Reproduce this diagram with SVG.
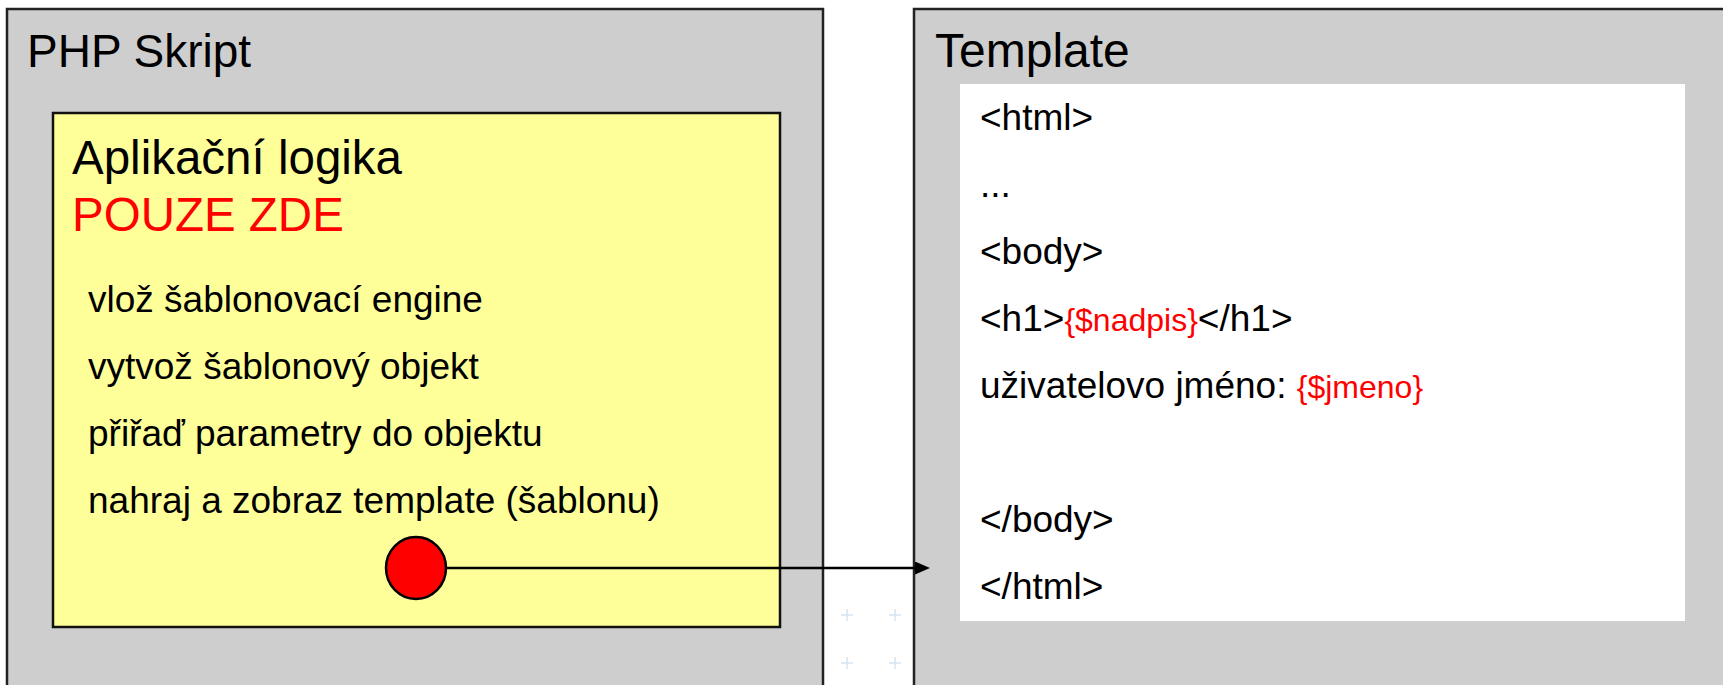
<svg xmlns="http://www.w3.org/2000/svg" width="1723" height="685" viewBox="0 0 1723 685">
  <style>
    text { font-family: "Liberation Sans", Arial, sans-serif; fill: #000; }
    .panel { fill: #cecece; stroke: #222; stroke-width: 2.5; }
    .logic { fill: #ffff99; stroke: #111; stroke-width: 2.5; }
    .sheet { fill: #fff; }
    .title { font-size: 46px; }
    .title-wide { font-size: 48px; }
    .head { font-size: 47.5px; }
    .item { font-size: 37px; }
    .code { font-size: 37px; }
    .var { font-size: 32px; fill: #ff0000; }
    .red { fill: #ff0000; }
    .cross { stroke: #d8e5ef; stroke-width: 1.5; }
    .wire { stroke: #000; stroke-width: 2.5; fill: none; }
  </style>
  <defs>
    <marker id="arrow" viewBox="0 0 15 13" refX="0" refY="6.5" markerWidth="15" markerHeight="13" markerUnits="userSpaceOnUse" orient="auto">
      <path d="M0,0 L15,6.5 L0,13 Z" fill="#000"/>
    </marker>
  </defs>

  <rect width="1723" height="685" fill="#fff"/>

  <!-- faint grid marks between the panels -->
  <g id="grid-marks">
    <path class="cross" d="M841,615 h12 M847,609 v12 M889,615 h12 M895,609 v12 M841,663 h12 M847,657 v12 M889,663 h12 M895,657 v12"/>
  </g>

  <!-- PHP script panel -->
  <g id="php-script">
    <rect class="panel" x="7" y="9" width="816" height="700"/>
    <text class="title" x="27" y="67">PHP Skript</text>
  </g>

  <!-- application logic block -->
  <g id="app-logic">
    <rect class="logic" x="53" y="113" width="727" height="514"/>
    <text class="head" x="72" y="174">Aplikační logika</text>
    <text class="head red" x="72" y="231">POUZE ZDE</text>
    <text class="item" x="88" y="312">vlož šablonovací engine</text>
    <text class="item" x="88" y="379">vytvož šablonový objekt</text>
    <text class="item" x="88" y="446">přiřaď parametry do objektu</text>
    <text class="item" x="88" y="513">nahraj a zobraz template (šablonu)</text>
  </g>

  <!-- template panel -->
  <g id="template">
    <rect class="panel" x="914" y="9" width="830" height="700"/>
    <text class="title-wide" x="935" y="67">Template</text>
    <rect class="sheet" x="960" y="84" width="725" height="537"/>
    <text class="code" x="980" y="130">&lt;html&gt;</text>
    <text class="code" x="980" y="197">...</text>
    <text class="code" x="980" y="264">&lt;body&gt;</text>
    <text class="code" x="980" y="331">&lt;h1&gt;<tspan class="var">{$nadpis}</tspan>&lt;/h1&gt;</text>
    <text class="code" x="980" y="398">uživatelovo jméno: <tspan class="var">{$jmeno}</tspan></text>
    <text class="code" x="980" y="532">&lt;/body&gt;</text>
    <text class="code" x="980" y="599">&lt;/html&gt;</text>
  </g>

  <!-- render call: logic block to template -->
  <g id="connectors">
    <line class="wire" x1="446" y1="568" x2="915" y2="568" marker-end="url(#arrow)"/>
  </g>

  <g id="render-point">
    <ellipse cx="416" cy="568" rx="30" ry="31" fill="#ff0000" stroke="#000" stroke-width="2.5"/>
  </g>
</svg>
